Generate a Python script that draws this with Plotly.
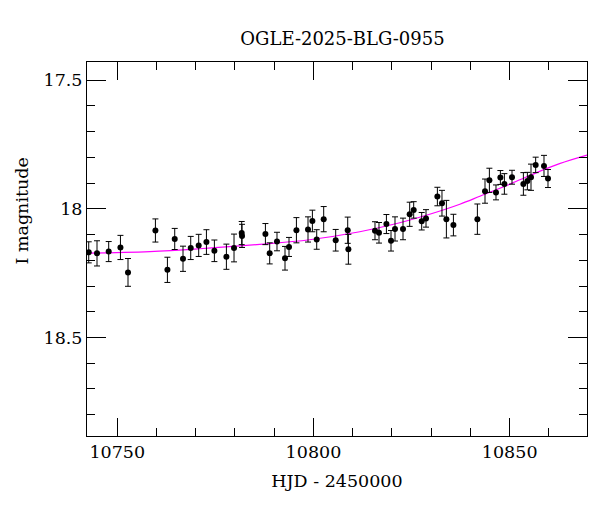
import plotly.graph_objects as go

# photometry (HJD - 2450000, I mag, error)
hjd = [10742.74, 10744.85, 10747.83, 10750.82, 10752.75, 10759.73, 10762.79, 10764.65,
       10766.76, 10768.73, 10770.76, 10772.73, 10774.76, 10777.82, 10779.76, 10781.72,
       10781.80, 10787.76, 10788.85, 10790.71, 10792.75, 10793.77, 10795.66, 10798.61,
       10799.73, 10800.83, 10802.61, 10805.67, 10808.73, 10808.90, 10815.68, 10816.70,
       10818.59, 10819.76, 10820.78, 10822.82, 10824.52, 10825.54, 10827.58, 10828.68,
       10831.58, 10832.75, 10833.87, 10835.66, 10841.77, 10843.71, 10844.83, 10846.51,
       10847.63, 10848.65, 10850.59, 10853.49, 10854.51, 10855.43, 10856.62, 10858.74,
       10859.76]
mag = [18.169, 18.173, 18.166, 18.150, 18.247, 18.084, 18.237, 18.117,
       18.194, 18.152, 18.142, 18.129, 18.163, 18.186, 18.152, 18.094,
       18.105, 18.098, 18.173, 18.127, 18.192, 18.148, 18.083, 18.080,
       18.047, 18.119, 18.040, 18.122, 18.083, 18.157, 18.085, 18.093,
       18.059, 18.124, 18.078, 18.078, 18.021, 18.004, 18.048, 18.037,
       17.952, 17.978, 18.040, 18.063, 18.040, 17.931, 17.889, 17.936,
       17.878, 17.903, 17.877, 17.903, 17.892, 17.877, 17.829, 17.833,
       17.882]
err = [0.041, 0.049, 0.039, 0.047, 0.054, 0.045, 0.049, 0.041,
       0.049, 0.045, 0.043, 0.048, 0.042, 0.049, 0.054, 0.045,
       0.045, 0.041, 0.041, 0.036, 0.046, 0.037, 0.049, 0.049,
       0.042, 0.038, 0.049, 0.042, 0.051, 0.058, 0.035, 0.040,
       0.037, 0.040, 0.047, 0.042, 0.047, 0.032, 0.034, 0.034,
       0.036, 0.050, 0.073, 0.042, 0.059, 0.047, 0.047, 0.029,
       0.027, 0.040, 0.027, 0.044, 0.034, 0.051, 0.030, 0.041,
       0.035]

# model curve
model_hjd = [10742.3, 10758.3, 10771.0, 10786.3, 10799.0, 10811.8, 10822.0, 10829.6,
             10837.3, 10842.4, 10847.5, 10852.6, 10857.6, 10862.7, 10869.7]
model_mag = [18.172, 18.166, 18.155, 18.138, 18.120, 18.089, 18.054, 18.021,
             17.982, 17.951, 17.920, 17.887, 17.854, 17.824, 17.791]

font = "DejaVu Serif"

fig = go.Figure()
fig.add_trace(go.Scatter(
    x=model_hjd, y=model_mag, mode="lines",
    line=dict(color="#ff00ff", width=1.2, shape="spline"),
    showlegend=False, hoverinfo="skip",
))
fig.add_trace(go.Scatter(
    x=hjd, y=mag, mode="markers",
    marker=dict(color="black", size=6),
    error_y=dict(type="data", array=err, color="black", thickness=1, width=3),
    showlegend=False,
))

axis_common = dict(
    showline=True, linecolor="black", linewidth=1, mirror="allticks",
    ticks="inside", tickcolor="black", tickwidth=1,
    showgrid=False, zeroline=False,
    tickfont=dict(family=font, size=17.5, color="black"),
)

fig.update_xaxes(
    range=[10742.3, 10869.7], tick0=10750, dtick=50, ticklen=18,
    tickformat="d",
    minor=dict(dtick=10, ticklen=8, ticks="inside", tickcolor="black", showgrid=False),
    title=dict(text="HJD - 2450000", font=dict(family=font, size=17.5, color="black"),
               standoff=13),
    **axis_common,
)
fig.update_yaxes(
    range=[18.883, 17.429], tick0=17.5, dtick=0.5, ticklen=19,
    minor=dict(dtick=0.1, ticklen=8, ticks="inside", tickcolor="black", showgrid=False),
    **axis_common,
)

# y label sits a bit above the middle, next to the 18 tick
fig.add_annotation(
    text="I magnitude", textangle=-90, showarrow=False,
    xref="paper", yref="paper", x=-0.13, y=0.6, xanchor="center", yanchor="middle",
    font=dict(family=font, size=17.5, color="black"),
)

# the page body adds about 8px at top/left, so the figure is made a bit smaller
fig.update_layout(
    width=592, height=504,
    margin=dict(l=79, r=13, t=54, b=76),
    plot_bgcolor="white", paper_bgcolor="white",
    title=dict(text="OGLE-2025-BLG-0955", x=0.565, xanchor="center", y=0.94,
               yanchor="middle", font=dict(family=font, size=18, color="black")),
)

fig.write_html("out.html")
